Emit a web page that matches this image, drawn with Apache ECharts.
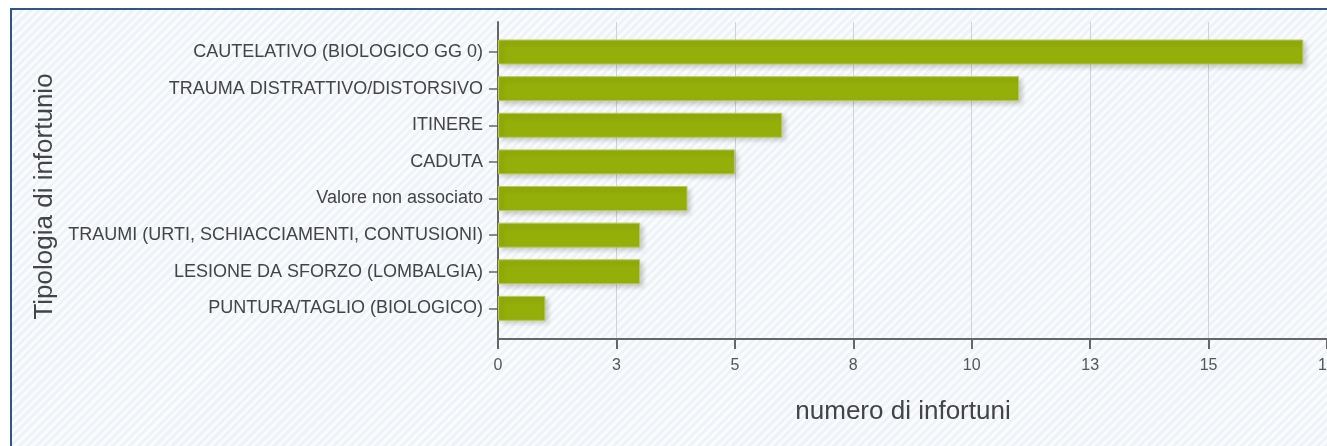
<!DOCTYPE html>
<html>
<head>
<meta charset="utf-8">
<script src="https://cdn.jsdelivr.net/npm/echarts@6/dist/echarts.min.js"></script>
<style>
  html, body { margin: 0; padding: 0; background: #ffffff; }
  #wrap { position: relative; width: 1327px; height: 446px; overflow: hidden; background: #ffffff; }
  #panel {
    position: absolute; left: 10px; top: 8px; right: 0; bottom: 0;
    border-top: 2px solid #2b5885; border-left: 2px solid #2b5885;
    background: repeating-linear-gradient(135deg, #eef3f8 0px, #eef3f8 3px, #f9fbfd 3px, #f9fbfd 6px);
  }
  #chart { position: absolute; left: 0; top: 0; width: 1327px; height: 446px; }
</style>
</head>
<body>
<div id="wrap">
  <div id="panel"></div>
  <div id="chart"></div>
</div>
<script>
// Injury types and how many injuries fall in each
const categories = [
  'CAUTELATIVO (BIOLOGICO GG 0)',
  'TRAUMA DISTRATTIVO/DISTORSIVO',
  'ITINERE',
  'CADUTA',
  'Valore non associato',
  'TRAUMI (URTI, SCHIACCIAMENTI, CONTUSIONI)',
  'LESIONE DA SFORZO (LOMBALGIA)',
  'PUNTURA/TAGLIO (BIOLOGICO)'
];
const counts = [17, 11, 6, 5, 4, 3, 3, 1];

const xMin = 0;
const xMax = 17.5;
const xStep = 2.5;

const xTitle = 'numero di infortuni';
const yTitle = 'Tipologia di infortunio';

const font = '"Liberation Sans", Arial, Helvetica, sans-serif';

const chart = echarts.init(document.getElementById('chart'), null, { renderer: 'canvas' });

chart.setOption({
  backgroundColor: 'transparent',
  animation: false,
  textStyle: { fontFamily: font },
  grid: [
    // frame: value scale, gridlines and both axis lines
    { left: 498, top: 22, width: 829, height: 317, outerBoundsMode: 'none', containLabel: false },
    // bars: category bands
    { left: 498, top: 33.7, width: 829, height: 293, outerBoundsMode: 'none', containLabel: false }
  ],
  xAxis: [
    {
      gridIndex: 0,
      type: 'value',
      min: xMin, max: xMax, interval: xStep,
      name: xTitle,
      nameLocation: 'middle',
      nameGap: 60,
      nameTextStyle: { fontSize: 26, color: '#444', fontFamily: font, padding: [0, 19, 0, 0] },
      axisLine: { show: true, lineStyle: { color: '#666', width: 2 } },
      axisTick: { show: true, length: 10, lineStyle: { color: '#666', width: 2 } },
      axisLabel: {
        color: '#555', fontSize: 16, margin: 19, fontFamily: font,
        formatter: v => String(Math.round(v))
      },
      splitLine: { show: true, lineStyle: { color: '#cfd2d6', width: 1 } }
    },
    {
      gridIndex: 1,
      type: 'value',
      min: xMin, max: xMax, interval: xStep,
      show: false
    }
  ],
  yAxis: [
    {
      gridIndex: 0,
      type: 'value',
      min: 0, max: 1,
      name: yTitle,
      nameLocation: 'middle',
      nameGap: 440,
      nameRotate: 90,
      nameTextStyle: { fontSize: 26, color: '#444', fontFamily: font, padding: [0, 32, 0, 0] },
      axisLine: { show: true, lineStyle: { color: '#666', width: 2 } },
      axisTick: { show: false },
      axisLabel: { show: false },
      splitLine: { show: false }
    },
    {
      gridIndex: 1,
      type: 'category',
      inverse: true,
      data: categories,
      axisLine: { show: false },
      axisTick: { show: true, alignWithLabel: true, length: 9, lineStyle: { color: '#666', width: 1.5 } },
      axisLabel: { color: '#444', fontSize: 18, margin: 15, fontFamily: font },
      splitLine: { show: false }
    }
  ],
  series: [
    {
      type: 'bar',
      xAxisIndex: 1,
      yAxisIndex: 1,
      data: counts,
      barWidth: 25,
      itemStyle: {
        color: '#94ae0a',
        borderColor: '#b8ca5e',
        borderWidth: 1,
        shadowColor: 'rgba(0,0,0,0.2)',
        shadowBlur: 5,
        shadowOffsetX: 3,
        shadowOffsetY: 3
      },
      emphasis: { disabled: true }
    }
  ]
});
</script>
</body>
</html>
